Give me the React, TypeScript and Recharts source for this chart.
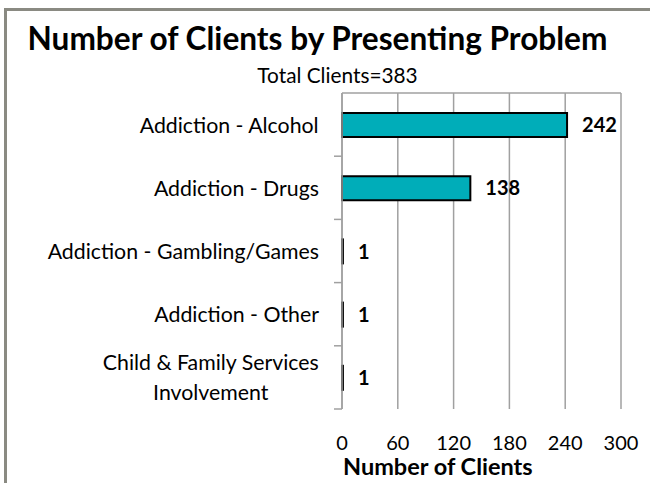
import React from 'react';
import { BarChart, Bar, XAxis, YAxis, CartesianGrid, LabelList } from 'recharts';

const categories = [
  'Addiction - Alcohol',
  'Addiction - Drugs',
  'Addiction - Gambling/Games',
  'Addiction - Other',
  'Child & Family Services Involvement',
];
const categoryLines = [
  ['Addiction - Alcohol'],
  ['Addiction - Drugs'],
  ['Addiction - Gambling/Games'],
  ['Addiction - Other'],
  ['Child & Family Services', 'Involvement'],
];
const clients = [242, 138, 1, 1, 1];
const xTicks = [0, 60, 120, 180, 240, 300];

const title = 'Number of Clients by Presenting Problem';
const subtitle = 'Total Clients=383';
const axisTitle = 'Number of Clients';

const data = categories.map((name, i) => ({ name, value: clients[i] }));

const FONT = 'Lato, "Open Sans", sans-serif';
const GRID = '#a0a0a0';
const CAT_SIZE = 21.3;

let ctx: CanvasRenderingContext2D | null = null;
function measure(text: string, font: string): number {
  if (!ctx) {
    const c = document.createElement('canvas');
    ctx = c.getContext('2d');
  }
  if (!ctx) return text.length * 10;
  ctx.font = font;
  return ctx.measureText(text).width;
}

const CategoryTick = (props: any) => {
  const { x, y, payload, index } = props;
  const lines = categoryLines[index] ?? [String(payload.value)];
  const half = payload && typeof payload.offset === 'number' ? payload.offset : 31.6;
  const lh = 30;
  const right = x - 23;
  const widths = lines.map((l: string) => measure(l, `${CAT_SIZE}px Lato`));
  const maxW = Math.max(...widths);
  const cx = right - maxW / 2;
  const first = y + 8 - ((lines.length - 1) * lh) / 2;
  return (
    <g>
      <line x1={x - 8} x2={x} y1={y + half} y2={y + half} stroke={GRID} strokeWidth={1.5} />
      <text fontFamily={FONT} fontSize={CAT_SIZE} fill="#000" textAnchor="middle">
        {lines.map((l: string, i: number) => (
          <tspan key={i} x={cx} y={first + i * lh}>
            {l}
          </tspan>
        ))}
      </text>
    </g>
  );
};

const ValueTick = (props: any) => {
  const { x, y, payload } = props;
  return (
    <text x={x} y={y + 41} fontFamily={FONT} fontSize={20} fill="#000" textAnchor="middle">
      {payload.value}
    </text>
  );
};

const AxisTitle = (props: any) => {
  const vb = props.viewBox || { x: 342, y: 409 };
  return (
    <text x={vb.x + 1} y={vb.y + 66} fontFamily={FONT} fontWeight="bold" fontSize={23.5} fill="#000">
      {axisTitle}
    </text>
  );
};

export default function App() {
  return (
    <div
      style={{
        position: 'absolute',
        left: 0,
        top: 0,
        width: 650,
        height: 483,
        overflow: 'hidden',
        background: '#fff',
      }}
    >
      <div
        style={{
          position: 'absolute',
          left: 4,
          top: 8,
          width: 700,
          height: 520,
          borderLeft: '3px solid #8a8a82',
          borderTop: '3px solid #8a8a82',
        }}
      />
      <svg
        width={650}
        height={483}
        style={{ position: 'absolute', left: 0, top: 0 }}
      >
        <text x={317.5} y={50} textAnchor="middle" fontFamily={FONT} fontWeight="bold" fontSize={31.6} fill="#000">
          {title}
        </text>
        <text x={337.5} y={83} textAnchor="middle" fontFamily={FONT} fontSize={20.8} fill="#000">
          {subtitle}
        </text>
      </svg>
      <div style={{ position: 'absolute', left: 0, top: 0 }}>
        <BarChart
          width={650}
          height={483}
          data={data}
          layout="vertical"
          margin={{ top: 83, right: 29, bottom: 44, left: 0 }}
        >
          <CartesianGrid
            xAxisId="bottom"
            horizontal={false}
            vertical={true}
            stroke={GRID}
            strokeWidth={1.5}
          />
          <XAxis
            xAxisId="top"
            orientation="top"
            type="number"
            domain={[0, 300]}
            ticks={xTicks}
            height={10}
            tick={false}
            tickSize={8}
            tickLine={{ stroke: GRID, strokeWidth: 1.5 }}
            axisLine={{ stroke: GRID, strokeWidth: 1.5 }}
          />
          <XAxis
            xAxisId="bottom"
            orientation="bottom"
            type="number"
            domain={[0, 300]}
            ticks={xTicks}
            height={30}
            axisLine={false}
            tickLine={false}
            tickSize={0}
            tickMargin={0}
            tick={<ValueTick />}
            label={<AxisTitle />}
          />
          <YAxis
            type="category"
            dataKey="name"
            width={342}
            interval={0}
            tickLine={false}
            tickSize={0}
            tickMargin={0}
            axisLine={{ stroke: GRID, strokeWidth: 1.5 }}
            tick={<CategoryTick />}
          />
          <Bar
            xAxisId="bottom"
            dataKey="value"
            fill="#00adb9"
            stroke="#000"
            strokeWidth={2}
            barSize={24}
            isAnimationActive={false}
          >
            <LabelList
              dataKey="value"
              position="right"
              offset={15}
              fontFamily={FONT}
              fontWeight="bold"
              fontSize={20}
              fill="#000"
            />
          </Bar>
        </BarChart>
      </div>
    </div>
  );
}
